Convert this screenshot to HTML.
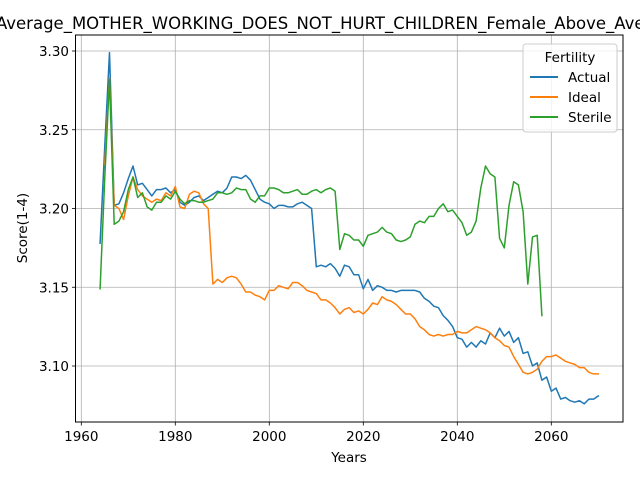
<!DOCTYPE html>
<html><head><meta charset="utf-8"><style>
body{margin:0;background:#fff}
svg{display:block;font-family:"DejaVu Sans","Liberation Sans",sans-serif}
</style></head><body>
<svg id="chart" width="640" height="480">
<text x="339" y="29" font-size="16.5" text-anchor="middle">Average_MOTHER_WORKING_DOES_NOT_HURT_CHILDREN_Female_Above_Average</text>
<g id="grid"></g>
<g id="series"></g>
<rect x="75.5" y="35" width="547.5" height="387" fill="none" stroke="#000" stroke-width="1"/>
<g id="ticks"></g>
<text x="349" y="462" font-size="13.5" text-anchor="middle">Years</text>
<text transform="translate(27,228) rotate(-90)" font-size="13.5" text-anchor="middle">Score(1-4)</text>
<g>
<rect x="523" y="44" width="94" height="88" rx="3" fill="#fff" fill-opacity="0.8" stroke="#ccc"/>
<text x="570" y="62" font-size="13.5" text-anchor="middle">Fertility</text>
<line x1="530" y1="77" x2="558" y2="77" stroke="#1f77b4" stroke-width="2"/>
<text x="568" y="82" font-size="13.5">Actual</text>
<line x1="530" y1="97" x2="558" y2="97" stroke="#ff7f0e" stroke-width="2"/>
<text x="568" y="102" font-size="13.5">Ideal</text>
<line x1="530" y1="117" x2="558" y2="117" stroke="#2ca02c" stroke-width="2"/>
<text x="568" y="122" font-size="13.5">Sterile</text>
</g>
</svg>
<script>
const actualStart = 1964;
const actualValues = [3.178,3.24,3.299,3.202,3.203,3.210,3.219,3.227,3.215,3.216,3.212,3.208,3.212,3.212,3.213,3.210,3.212,3.204,3.202,3.204,3.207,3.208,3.205,3.207,3.209,3.211,3.210,3.213,3.220,3.220,3.219,3.221,3.218,3.212,3.206,3.204,3.203,3.200,3.202,3.202,3.201,3.201,3.203,3.204,3.202,3.200,3.163,3.164,3.163,3.165,3.162,3.157,3.164,3.163,3.158,3.158,3.149,3.155,3.148,3.151,3.150,3.148,3.148,3.147,3.148,3.148,3.148,3.148,3.147,3.143,3.141,3.138,3.137,3.132,3.129,3.125,3.118,3.117,3.112,3.115,3.112,3.116,3.114,3.121,3.118,3.124,3.119,3.122,3.115,3.118,3.108,3.109,3.100,3.102,3.091,3.093,3.084,3.086,3.079,3.080,3.078,3.077,3.078,3.076,3.079,3.079,3.081];
const idealStart = 1965;
const idealValues = [3.228,3.283,3.202,3.200,3.193,3.208,3.220,3.212,3.208,3.206,3.204,3.206,3.205,3.210,3.208,3.214,3.201,3.200,3.209,3.211,3.210,3.203,3.200,3.152,3.155,3.153,3.156,3.157,3.156,3.152,3.147,3.147,3.145,3.144,3.142,3.148,3.148,3.151,3.150,3.149,3.153,3.153,3.151,3.148,3.147,3.146,3.142,3.142,3.140,3.137,3.133,3.136,3.137,3.134,3.135,3.133,3.136,3.140,3.139,3.144,3.142,3.141,3.139,3.136,3.133,3.133,3.130,3.125,3.123,3.120,3.119,3.120,3.119,3.120,3.120,3.122,3.121,3.121,3.123,3.125,3.124,3.123,3.121,3.118,3.116,3.113,3.112,3.106,3.101,3.096,3.095,3.096,3.098,3.103,3.106,3.106,3.107,3.105,3.103,3.102,3.101,3.099,3.099,3.096,3.095,3.095];
const sterileStart = 1964;
const sterileValues = [3.149,3.220,3.282,3.190,3.192,3.198,3.212,3.220,3.207,3.210,3.201,3.199,3.204,3.204,3.208,3.206,3.211,3.206,3.203,3.205,3.205,3.204,3.204,3.205,3.206,3.210,3.210,3.209,3.210,3.213,3.212,3.212,3.206,3.204,3.208,3.208,3.213,3.213,3.212,3.210,3.210,3.211,3.212,3.209,3.209,3.211,3.212,3.210,3.212,3.213,3.211,3.174,3.184,3.183,3.180,3.180,3.176,3.183,3.184,3.185,3.188,3.185,3.184,3.180,3.179,3.180,3.182,3.190,3.192,3.191,3.195,3.195,3.200,3.203,3.198,3.199,3.195,3.191,3.183,3.185,3.192,3.213,3.227,3.222,3.220,3.181,3.175,3.202,3.217,3.215,3.198,3.152,3.182,3.183,3.132];
const xTicks = [1960,1980,2000,2020,2040,2060];
const yTicks = [3.10,3.15,3.20,3.25,3.30];
const yTickLabels = ["3.10","3.15","3.20","3.25","3.30"];

const NS="http://www.w3.org/2000/svg";
function xScale(v){return 81.3+(v-1960)*4.7;}
function yScale(v){return 366-(v-3.10)*1575;}
const grid=document.getElementById('grid'), ticks=document.getElementById('ticks'), series=document.getElementById('series');
function mk(tag,attrs,parent){const e=document.createElementNS(NS,tag);for(const k in attrs)e.setAttribute(k,attrs[k]);parent.appendChild(e);return e;}
xTicks.forEach(t=>{
  const x=xScale(t);
  const g=mk('line',{x1:x,x2:x,y1:35,y2:422,stroke:'#b0b0b0','stroke-width':0.8},grid);
  
  
  const tk=mk('line',{x1:x,x2:x,y1:422,y2:425.5,stroke:'#000','stroke-width':0.8},ticks);
  
  
  const tx=mk('text',{x:x,y:441,'font-size':13.5,'text-anchor':'middle'},ticks);
  tx.textContent=t;
  
  
});
yTicks.forEach((t,i)=>{
  const y=yScale(t);
  const g=mk('line',{x1:75.5,x2:623,y1:y,y2:y,stroke:'#b0b0b0','stroke-width':0.8},grid);
  
  
  const tk=mk('line',{x1:72,x2:75.5,y1:y,y2:y,stroke:'#000','stroke-width':0.8},ticks);
  
  
  const tx=mk('text',{x:69,y:y+5,'font-size':13.5,'text-anchor':'end'},ticks);
  tx.textContent=yTickLabels[i];
  
  
});
function drawLine(start,vals,color,name){
  const pts=vals.map((v,i)=>xScale(start+i).toFixed(1)+','+yScale(v).toFixed(1)).join(' ');
  const p=mk('polyline',{points:pts,fill:'none',stroke:color,'stroke-width':1.5,'stroke-linejoin':'round','stroke-linecap':'square'},series);
  
  
}
drawLine(actualStart,actualValues,'#1f77b4','actual-line');
drawLine(idealStart,idealValues,'#ff7f0e','ideal-line');
drawLine(sterileStart,sterileValues,'#2ca02c','sterile-line');
</script>
</body></html>
